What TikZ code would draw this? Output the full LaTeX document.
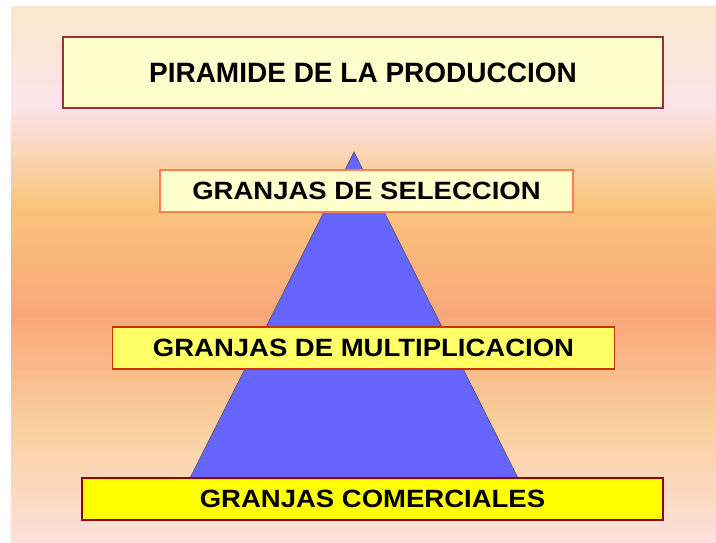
\documentclass[tikz,border=0pt]{standalone}
\usepackage{fontspec}
\setmainfont{Liberation Sans}
\newfontfamily\widebold[FakeStretch=1.1]{Liberation Sans Bold}
\usetikzlibrary{positioning}
\definecolor{bgA}{HTML}{F9E8C9}
\definecolor{bgB}{HTML}{FCE4EC}
\definecolor{bgC}{HTML}{F9C47C}
\definecolor{bgD}{HTML}{F9A77A}
\definecolor{bgE}{HTML}{F9D19F}
\definecolor{bgF}{HTML}{FDE0DC}
\definecolor{paleY}{HTML}{FFFFCC}
\definecolor{midY}{HTML}{FFFF66}
\definecolor{fullY}{HTML}{FFFF00}
\definecolor{darkred}{HTML}{993333}
\definecolor{deepred}{HTML}{990000}
\definecolor{orangeB}{HTML}{FF7F50}
\definecolor{redorange}{HTML}{CC3300}
\definecolor{pyramid}{HTML}{6666FF}
\tikzset{
  box/.style={draw, line width=1.2pt, inner sep=0pt, anchor=center, font=\widebold\fontsize{25}{28}\selectfont},
}
\begin{document}
\begin{tikzpicture}[x=1pt,y=-1pt]
\useasboundingbox (0,0) rectangle (716,543);
% background
\shade[top color=bgA, bottom color=bgB] (11,7) rectangle (716,105);
\shade[top color=bgB, bottom color=bgC] (11,104.5) rectangle (716,205);
\shade[top color=bgC, bottom color=bgD] (11,204.5) rectangle (716,315);
\shade[top color=bgD, bottom color=bgE] (11,314.5) rectangle (716,430);
\shade[top color=bgE, bottom color=bgF] (11,429.5) rectangle (716,543);
% pyramid
\coordinate (apex) at (354,152);
\coordinate (bl) at (190,478);
\coordinate (br) at (518,478);
\draw[fill=pyramid, draw=black!70, line width=0.5pt] (apex) -- (br) -- (bl) -- cycle;
% boxes
\node[box, fill=paleY, draw=darkred, minimum width=600pt, minimum height=71pt, font=\bfseries\fontsize{28}{32}\selectfont] (title) at (363,72.5) {PIRAMIDE DE LA PRODUCCION};
\node[box, fill=paleY, draw=orangeB, minimum width=413pt, minimum height=42pt] (sel) at (366.5,191) {GRANJAS DE SELECCION};
\node[box, fill=midY, draw=redorange, minimum width=502pt, minimum height=42pt] (mul) at (363.5,348) {GRANJAS DE MULTIPLICACION};
\node[box, fill=fullY, draw=deepred, minimum width=581pt, minimum height=42pt] (com) at (372.5,499) {GRANJAS COMERCIALES};
\end{tikzpicture}
\end{document}
